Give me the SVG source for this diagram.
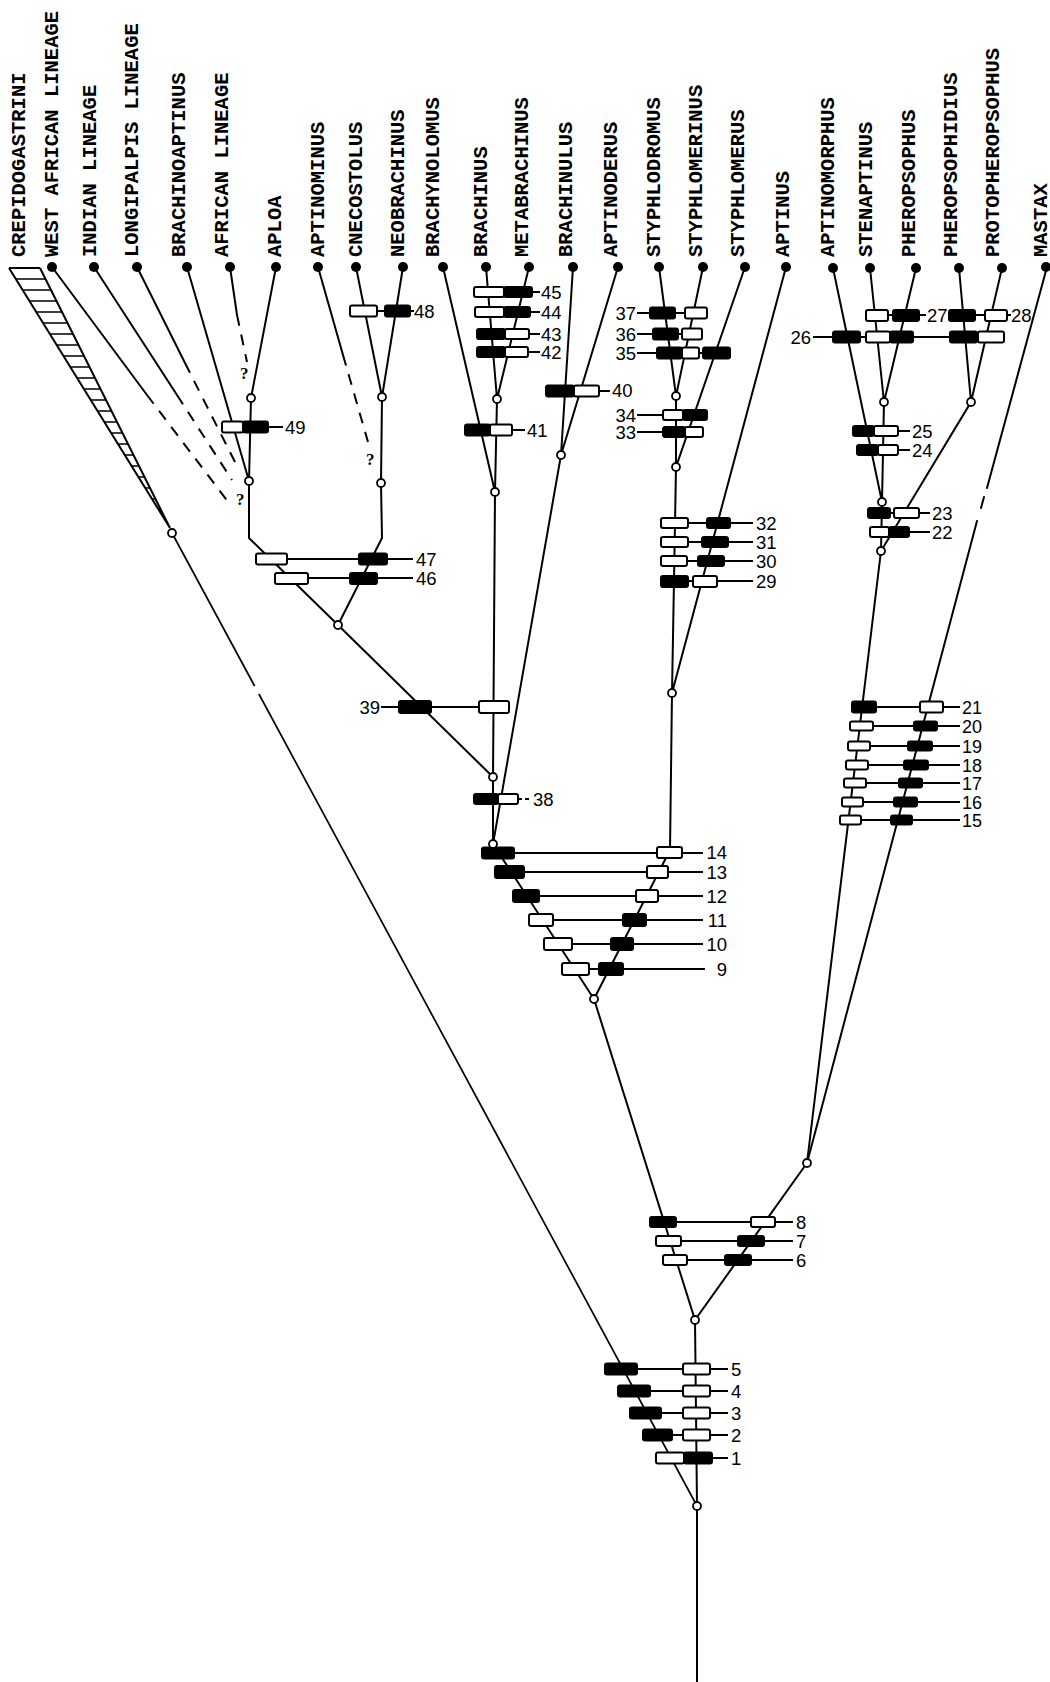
<svg xmlns="http://www.w3.org/2000/svg" width="1050" height="1682" viewBox="0 0 1050 1682">
<style>
.br{stroke:#000;stroke-width:2;fill:none;stroke-linecap:round}
.th{stroke:#000;stroke-width:1.7;fill:none}
.rg{stroke:#000;stroke-width:2;fill:none}
.ds{stroke:#000;stroke-width:2;fill:none;stroke-dasharray:11 9}
.ld{stroke:#000;stroke-width:2;fill:none}
.w{fill:#fff;stroke:#000;stroke-width:2}
.b{fill:#000;stroke:#000;stroke-width:2}
.nd{fill:#fff;stroke:#000;stroke-width:1.8}
.dot{fill:#000}
.tx{font-family:"Liberation Mono","DejaVu Sans Mono",monospace;font-weight:bold;font-size:20.5px;fill:#000}
.n{font-family:"Liberation Sans","DejaVu Sans",sans-serif;font-size:18.5px;fill:#000}
.ns{font-family:"Liberation Sans","DejaVu Sans",sans-serif;font-size:18px;fill:#000}
.q{font-family:"Liberation Serif","DejaVu Serif",serif;font-weight:bold;font-size:17px;fill:#000}
</style>
<rect width="1050" height="1682" fill="#fff"/>

<g id="connectors">
  <path class="rg" d="M9,268 L170,528 M40,268 L170,528 M9,268 L40,268"/>
  <path class="th" d="M15.8,279H45.5 M22.6,290H51 M29.4,301H56.5 M36.2,312H62 M43,323H67.5 M49.9,334H73 M56.7,345H78.5 M63.5,356H84 M70.3,367H89.5 M77.1,378H95 M83.9,389H100.5 M90.7,400H106 M97.5,411H111.5 M104.3,422H117 M111.1,433H122.5 M117.9,444H128 M124.8,455H133.5 M131.6,466H139 M138.4,477H144.5 M145.2,488H150 M152,499H155.5"/>
  <path class="th" d="M172,533 L254.6,686 M258.9,694 L697,1506"/>
  <path class="br" d="M52,267 L147,395"/><path class="ds" d="M147,395 L229,503"/>
  <path class="br" d="M94,267 L177,395"/><path class="ds" d="M177,395 L232,480"/>
  <path class="br" d="M137,267 L185,363"/><path class="ds" d="M185,363 L235,462"/>
  <path class="br" d="M187,267 L249,481"/>
  <path class="br" d="M230,267 L237,315"/><path class="ds" d="M237,315 L247,362"/>
  <path class="br" d="M276,267 L251,398 L249,481 L249,538 L338,625"/>
  <path class="br" d="M318,267 L343,355"/><path class="ds" d="M343,355 L368,442"/>
  <path class="br" d="M356,267 L382,397 M403,267 L382,397 L381,483 L382,538 L338,625"/>
  <path class="br" d="M338,625 L493,777"/>
  <path class="br" d="M443,267 L495,492 M486,267 L497,399 M529,267 L497,399 L495,492 L493,777 L493,844"/>
  <path class="br" d="M573,267 L561,455 M618,267 L561,455 L493,844 L594,999"/>
  <path class="br" d="M659,267 L676,396 M703,267 L676,396 L676,467 M745,267 L676,467 L672,693 M786,267 L672,693 L670,850 L594,999"/>
  <path class="br" d="M594,999 L695,1320 L697,1506 L697,1682"/>
  <path class="br" d="M833,268 L882,502 M870,268 L884,402 M916,268 L884,402 L882,502 L881,551 M959,268 L971,402 M1002,268 L971,402 L881,551 L807,1163 L695,1320"/>
  <path class="br" d="M1047,267 L987,488 M984,497 L981,508 M977,521 L807,1163"/>
</g>

<g id="taxa">
  <g id="t-crepidogastrini"><text class="tx" transform="translate(25,257) rotate(-90)">CREPIDOGASTRINI</text></g>
  <g id="t-west-african"><text class="tx" transform="translate(58,257) rotate(-90)">WEST AFRICAN LINEAGE</text><circle class="dot" cx="52" cy="267" r="5"/></g>
  <g id="t-indian"><text class="tx" transform="translate(96,257) rotate(-90)">INDIAN LINEAGE</text><circle class="dot" cx="94" cy="267" r="5"/></g>
  <g id="t-longipalpis"><text class="tx" transform="translate(138,257) rotate(-90)">LONGIPALPIS LINEAGE</text><circle class="dot" cx="137" cy="267" r="5"/></g>
  <g id="t-brachinoaptinus"><text class="tx" transform="translate(185,257) rotate(-90)">BRACHINOAPTINUS</text><circle class="dot" cx="187" cy="267" r="5"/></g>
  <g id="t-african"><text class="tx" transform="translate(228,257) rotate(-90)">AFRICAN LINEAGE</text><circle class="dot" cx="230" cy="267" r="5"/></g>
  <g id="t-aploa"><text class="tx" transform="translate(281,257) rotate(-90)">APLOA</text><circle class="dot" cx="276" cy="267" r="5"/></g>
  <g id="t-aptinominus"><text class="tx" transform="translate(324,257) rotate(-90)">APTINOMINUS</text><circle class="dot" cx="318" cy="267" r="5"/></g>
  <g id="t-cnecostolus"><text class="tx" transform="translate(362,257) rotate(-90)">CNECOSTOLUS</text><circle class="dot" cx="356" cy="267" r="5"/></g>
  <g id="t-neobrachinus"><text class="tx" transform="translate(404,257) rotate(-90)">NEOBRACHINUS</text><circle class="dot" cx="403" cy="267" r="5"/></g>
  <g id="t-brachynolomus"><text class="tx" transform="translate(439,257) rotate(-90)">BRACHYNOLOMUS</text><circle class="dot" cx="443" cy="267" r="5"/></g>
  <g id="t-brachinus"><text class="tx" transform="translate(487,257) rotate(-90)">BRACHINUS</text><circle class="dot" cx="486" cy="267" r="5"/></g>
  <g id="t-metabrachinus"><text class="tx" transform="translate(528,257) rotate(-90)">METABRACHINUS</text><circle class="dot" cx="529" cy="267" r="5"/></g>
  <g id="t-brachinulus"><text class="tx" transform="translate(572,257) rotate(-90)">BRACHINULUS</text><circle class="dot" cx="573" cy="267" r="5"/></g>
  <g id="t-aptinoderus"><text class="tx" transform="translate(617,257) rotate(-90)">APTINODERUS</text><circle class="dot" cx="618" cy="267" r="5"/></g>
  <g id="t-styphlodromus"><text class="tx" transform="translate(660,257) rotate(-90)">STYPHLODROMUS</text><circle class="dot" cx="659" cy="267" r="5"/></g>
  <g id="t-styphlomerinus"><text class="tx" transform="translate(702,257) rotate(-90)">STYPHLOMERINUS</text><circle class="dot" cx="703" cy="267" r="5"/></g>
  <g id="t-styphlomerus"><text class="tx" transform="translate(744,257) rotate(-90)">STYPHLOMERUS</text><circle class="dot" cx="745" cy="267" r="5"/></g>
  <g id="t-aptinus"><text class="tx" transform="translate(789,257) rotate(-90)">APTINUS</text><circle class="dot" cx="786" cy="267" r="5"/></g>
  <g id="t-aptinomorphus"><text class="tx" transform="translate(834,257) rotate(-90)">APTINOMORPHUS</text><circle class="dot" cx="833" cy="268" r="5"/></g>
  <g id="t-stenaptinus"><text class="tx" transform="translate(872,257) rotate(-90)">STENAPTINUS</text><circle class="dot" cx="870" cy="268" r="5"/></g>
  <g id="t-pheropsophus"><text class="tx" transform="translate(915,257) rotate(-90)">PHEROPSOPHUS</text><circle class="dot" cx="916" cy="268" r="5"/></g>
  <g id="t-pheropsophidius"><text class="tx" transform="translate(957,257) rotate(-90)">PHEROPSOPHIDIUS</text><circle class="dot" cx="959" cy="268" r="5"/></g>
  <g id="t-protopheropsophus"><text class="tx" transform="translate(999,257) rotate(-90)">PROTOPHEROPSOPHUS</text><circle class="dot" cx="1002" cy="268" r="5"/></g>
  <g id="t-mastax"><text class="tx" transform="translate(1047,257) rotate(-90)">MASTAX</text><circle class="dot" cx="1046" cy="267" r="5"/></g>
</g>

<g id="characters">
  <g id="c1"><path class="ld" d="M712,1458H728"/><rect class="w" x="656" y="1452.5" width="28" height="11" rx="2"/><rect class="b" x="684" y="1452.5" width="28" height="11" rx="2"/><text class="n" x="731" y="1465">1</text></g>
  <g id="c2"><path class="ld" d="M672,1435H683 M710,1435H728"/><rect class="b" x="643" y="1429.5" width="29" height="11" rx="2"/><rect class="w" x="683" y="1429.5" width="27" height="11" rx="2"/><text class="n" x="731" y="1442">2</text></g>
  <g id="c3"><path class="ld" d="M661,1413H683 M710,1413H728"/><rect class="b" x="630" y="1407.5" width="31" height="11" rx="2"/><rect class="w" x="683" y="1407.5" width="27" height="11" rx="2"/><text class="n" x="731" y="1420">3</text></g>
  <g id="c4"><path class="ld" d="M650,1391H683 M710,1391H728"/><rect class="b" x="618" y="1385.5" width="32" height="11" rx="2"/><rect class="w" x="683" y="1385.5" width="27" height="11" rx="2"/><text class="n" x="731" y="1398">4</text></g>
  <g id="c5"><path class="ld" d="M637,1369H683 M710,1369H728"/><rect class="b" x="605" y="1363.5" width="32" height="11" rx="2"/><rect class="w" x="683" y="1363.5" width="27" height="11" rx="2"/><text class="n" x="731" y="1376">5</text></g>
  <g id="c6"><path class="ld" d="M687,1260H725 M751,1260H793"/><rect class="w" x="663" y="1255" width="24" height="10" rx="2"/><rect class="b" x="725" y="1255" width="26" height="10" rx="2"/><text class="n" x="796" y="1267">6</text></g>
  <g id="c7"><path class="ld" d="M681,1241H738 M764,1241H793"/><rect class="w" x="656" y="1236" width="25" height="10" rx="2"/><rect class="b" x="738" y="1236" width="26" height="10" rx="2"/><text class="n" x="796" y="1248">7</text></g>
  <g id="c8"><path class="ld" d="M676,1222H751 M775,1222H793"/><rect class="b" x="650" y="1217" width="26" height="10" rx="2"/><rect class="w" x="751" y="1217" width="24" height="10" rx="2"/><text class="n" x="796" y="1229">8</text></g>
  <g id="c9"><path class="ld" d="M589,969H599 M623,969H705"/><rect class="w" x="562" y="963" width="27" height="12" rx="2"/><rect class="b" x="599" y="963" width="24" height="12" rx="2"/><text class="n" x="727" y="976" text-anchor="end">9</text></g>
  <g id="c10"><path class="ld" d="M572,944H611 M633,944H703"/><rect class="w" x="544" y="938" width="28" height="12" rx="2"/><rect class="b" x="611" y="938" width="22" height="12" rx="2"/><text class="n" x="727" y="951" text-anchor="end">10</text></g>
  <g id="c11"><path class="ld" d="M553,920H623 M646,920H703"/><rect class="w" x="529" y="914" width="24" height="12" rx="2"/><rect class="b" x="623" y="914" width="23" height="12" rx="2"/><text class="n" x="727" y="927" text-anchor="end">11</text></g>
  <g id="c12"><path class="ld" d="M539,896H636 M658,896H703"/><rect class="b" x="513" y="890" width="26" height="12" rx="2"/><rect class="w" x="636" y="890" width="22" height="12" rx="2"/><text class="n" x="727" y="903" text-anchor="end">12</text></g>
  <g id="c13"><path class="ld" d="M524,872H647 M668,872H703"/><rect class="b" x="495" y="866" width="29" height="12" rx="2"/><rect class="w" x="647" y="866" width="21" height="12" rx="2"/><text class="n" x="727" y="879" text-anchor="end">13</text></g>
  <g id="c14"><path class="ld" d="M514,853H657 M682,853H703"/><rect class="b" x="482" y="847.5" width="32" height="11" rx="2"/><rect class="w" x="657" y="847" width="25" height="11" rx="2"/><text class="n" x="727" y="859" text-anchor="end">14</text></g>
  <g id="c15"><path class="ld" d="M861,820H891 M912,820H960"/><rect class="w" x="840" y="815.5" width="21" height="9" rx="2"/><rect class="b" x="891" y="815.5" width="21" height="9" rx="2"/><text class="ns" x="962" y="827">15</text></g>
  <g id="c16"><path class="ld" d="M863,802H894 M917,802H960"/><rect class="w" x="842" y="797.5" width="21" height="9" rx="2"/><rect class="b" x="894" y="797.5" width="23" height="9" rx="2"/><text class="ns" x="962" y="809">16</text></g>
  <g id="c17"><path class="ld" d="M866,783H899 M922,783H960"/><rect class="w" x="844" y="778.5" width="22" height="9" rx="2"/><rect class="b" x="899" y="778.5" width="23" height="9" rx="2"/><text class="ns" x="962" y="790">17</text></g>
  <g id="c18"><path class="ld" d="M868,765H904 M928,765H960"/><rect class="w" x="846" y="760.5" width="22" height="9" rx="2"/><rect class="b" x="904" y="760.5" width="24" height="9" rx="2"/><text class="ns" x="962" y="772">18</text></g>
  <g id="c19"><path class="ld" d="M870,746H908 M932,746H960"/><rect class="w" x="848" y="741.5" width="22" height="9" rx="2"/><rect class="b" x="908" y="741.5" width="24" height="9" rx="2"/><text class="ns" x="962" y="753">19</text></g>
  <g id="c20"><path class="ld" d="M873,726H914 M937,726H960"/><rect class="w" x="850" y="721.5" width="23" height="9" rx="2"/><rect class="b" x="914" y="721.5" width="23" height="9" rx="2"/><text class="ns" x="962" y="733">20</text></g>
  <g id="c21"><path class="ld" d="M876,707H920 M943,707H960"/><rect class="b" x="852" y="701.5" width="24" height="11" rx="2"/><rect class="w" x="920" y="701.5" width="23" height="11" rx="2"/><text class="ns" x="962" y="714">21</text></g>
  <g id="c22"><path class="ld" d="M909,532H930"/><rect class="w" x="870" y="527" width="19" height="10" rx="2"/><rect class="b" x="889" y="527" width="20" height="10" rx="2"/><text class="n" x="932" y="539">22</text></g>
  <g id="c23"><path class="ld" d="M890,513H894 M919,513H930"/><rect class="b" x="868" y="508" width="22" height="10" rx="2"/><rect class="w" x="894" y="508" width="25" height="10" rx="2"/><text class="n" x="932" y="520">23</text></g>
  <g id="c24"><path class="ld" d="M898,450H910"/><rect class="b" x="857" y="445" width="21" height="10" rx="2"/><rect class="w" x="878" y="445" width="20" height="10" rx="2"/><text class="n" x="912" y="457">24</text></g>
  <g id="c25"><path class="ld" d="M898,431H910"/><rect class="b" x="853" y="426" width="21" height="10" rx="2"/><rect class="w" x="874" y="426" width="24" height="10" rx="2"/><text class="n" x="912" y="438">25</text></g>
  <g id="c26"><path class="ld" d="M813,337H833 M860,337H866 M913,337H950"/><rect class="b" x="833" y="331.5" width="27" height="11" rx="2"/><rect class="w" x="866" y="331.5" width="24" height="11" rx="2"/><rect class="b" x="890" y="331.5" width="23" height="11" rx="2"/><rect class="b" x="950" y="331.5" width="27" height="11" rx="2"/><rect class="w" x="978" y="331.5" width="26" height="11" rx="2"/><text class="n" x="811" y="344" text-anchor="end">26</text></g>
  <g id="c27"><path class="ld" d="M888,315H893 M919,315H926"/><rect class="w" x="866" y="310" width="22" height="11" rx="2"/><rect class="b" x="893" y="310" width="26" height="11" rx="2"/><text class="n" x="927" y="322">27</text></g>
  <g id="c28"><path class="ld" d="M975,315H985 M1007,315H1011"/><rect class="b" x="949" y="310" width="26" height="11" rx="2"/><rect class="w" x="985" y="310" width="22" height="11" rx="2"/><text class="n" x="1011" y="322">28</text></g>
  <g id="c29"><path class="ld" d="M688,581H693 M717,581H753"/><rect class="b" x="661" y="576" width="27" height="11" rx="2"/><rect class="w" x="693" y="576" width="24" height="11" rx="2"/><text class="n" x="756" y="588">29</text></g>
  <g id="c30"><path class="ld" d="M687,561H698 M724,561H753"/><rect class="w" x="661" y="556" width="26" height="10" rx="2"/><rect class="b" x="698" y="556" width="26" height="10" rx="2"/><text class="n" x="756" y="568">30</text></g>
  <g id="c31"><path class="ld" d="M688,542H702 M728,542H753"/><rect class="w" x="661" y="537" width="27" height="10" rx="2"/><rect class="b" x="702" y="537" width="26" height="10" rx="2"/><text class="n" x="756" y="549">31</text></g>
  <g id="c32"><path class="ld" d="M688,523H707 M730,523H753"/><rect class="w" x="661" y="518" width="27" height="10" rx="2"/><rect class="b" x="707" y="518" width="23" height="10" rx="2"/><text class="n" x="756" y="530">32</text></g>
  <g id="c33"><path class="ld" d="M637,432H663"/><rect class="b" x="663" y="427" width="22" height="10" rx="2"/><rect class="w" x="685" y="427" width="18" height="10" rx="2"/><text class="n" x="636" y="439" text-anchor="end">33</text></g>
  <g id="c34"><path class="ld" d="M637,415H663"/><rect class="w" x="663" y="410" width="20" height="10" rx="2"/><rect class="b" x="683" y="410" width="24" height="10" rx="2"/><text class="n" x="636" y="422" text-anchor="end">34</text></g>
  <g id="c35"><path class="ld" d="M637,353H657 M699,353H703"/><rect class="b" x="657" y="347.5" width="25" height="11" rx="2"/><rect class="w" x="682" y="347.5" width="17" height="11" rx="2"/><rect class="b" x="703" y="347.5" width="27" height="11" rx="2"/><text class="n" x="636" y="360" text-anchor="end">35</text></g>
  <g id="c36"><path class="ld" d="M637,334H653 M678,334H682"/><rect class="b" x="653" y="328.5" width="25" height="11" rx="2"/><rect class="w" x="682" y="328.5" width="20" height="11" rx="2"/><text class="n" x="636" y="341" text-anchor="end">36</text></g>
  <g id="c37"><path class="ld" d="M637,313H650 M675,313H685"/><rect class="b" x="650" y="307.5" width="25" height="11" rx="2"/><rect class="w" x="685" y="307.5" width="22" height="11" rx="2"/><text class="n" x="636" y="320" text-anchor="end">37</text></g>
  <g id="c38"><path class="ld" d="M518,799H531" stroke-dasharray="4 3"/><rect class="b" x="474" y="794" width="24" height="10" rx="2"/><rect class="w" x="498" y="794" width="20" height="10" rx="2"/><text class="n" x="533" y="806">38</text></g>
  <g id="c39"><path class="ld" d="M381,707H399 M431,707H479"/><rect class="b" x="399" y="701" width="32" height="12" rx="2"/><rect class="w" x="479" y="701" width="30" height="12" rx="2"/><text class="n" x="380" y="714" text-anchor="end">39</text></g>
  <g id="c40"><path class="ld" d="M599,391H610"/><rect class="b" x="546" y="385.5" width="28" height="11" rx="2"/><rect class="w" x="574" y="385.5" width="25" height="11" rx="2"/><text class="n" x="612" y="397">40</text></g>
  <g id="c41"><path class="ld" d="M512,430H525"/><rect class="b" x="465" y="424.5" width="25" height="11" rx="2"/><rect class="w" x="490" y="424.5" width="22" height="11" rx="2"/><text class="n" x="527" y="437">41</text></g>
  <g id="c42"><path class="ld" d="M528,352H540"/><rect class="b" x="477" y="347" width="28" height="10" rx="2"/><rect class="w" x="505" y="347" width="23" height="10" rx="2"/><text class="n" x="541" y="359">42</text></g>
  <g id="c43"><path class="ld" d="M529,334H540"/><rect class="b" x="477" y="329" width="28" height="10" rx="2"/><rect class="w" x="505" y="329" width="24" height="10" rx="2"/><text class="n" x="541" y="341">43</text></g>
  <g id="c44"><path class="ld" d="M530,312H540"/><rect class="w" x="475" y="307" width="29" height="10" rx="2"/><rect class="b" x="504" y="307" width="26" height="10" rx="2"/><text class="n" x="541" y="319">44</text></g>
  <g id="c45"><path class="ld" d="M532,292H540"/><rect class="w" x="474" y="287" width="30" height="10" rx="2"/><rect class="b" x="504" y="287" width="28" height="10" rx="2"/><text class="n" x="541" y="299">45</text></g>
  <g id="c46"><path class="ld" d="M308,578H350 M377,578H413"/><rect class="w" x="275" y="573" width="33" height="11" rx="2"/><rect class="b" x="350" y="573" width="27" height="11" rx="2"/><text class="n" x="416" y="585">46</text></g>
  <g id="c47"><path class="ld" d="M287,559H359 M387,559H413"/><rect class="w" x="256" y="553.5" width="31" height="11" rx="2"/><rect class="b" x="359" y="553.5" width="28" height="11" rx="2"/><text class="n" x="416" y="566">47</text></g>
  <g id="c48"><path class="ld" d="M377,311H385 M410,311H414"/><rect class="w" x="350" y="305.5" width="27" height="11" rx="2"/><rect class="b" x="385" y="305.5" width="25" height="11" rx="2"/><text class="n" x="414" y="318">48</text></g>
  <g id="c49"><path class="ld" d="M268,427H283"/><rect class="w" x="222" y="421.5" width="21" height="11" rx="2"/><rect class="b" x="243" y="421.5" width="25" height="11" rx="2"/><text class="n" x="285" y="434">49</text></g>
</g>

<g id="nodes">
  <circle class="nd" cx="172" cy="533" r="4"/>
  <circle class="nd" cx="251" cy="398" r="4"/>
  <circle class="nd" cx="249" cy="481" r="4"/>
  <circle class="nd" cx="382" cy="397" r="4"/>
  <circle class="nd" cx="381" cy="483" r="4"/>
  <circle class="nd" cx="338" cy="625" r="4"/>
  <circle class="nd" cx="497" cy="399" r="4"/>
  <circle class="nd" cx="495" cy="492" r="4"/>
  <circle class="nd" cx="561" cy="455" r="4"/>
  <circle class="nd" cx="493" cy="777" r="4"/>
  <circle class="nd" cx="493" cy="844" r="4"/>
  <circle class="nd" cx="676" cy="396" r="4"/>
  <circle class="nd" cx="676" cy="467" r="4"/>
  <circle class="nd" cx="672" cy="693" r="4"/>
  <circle class="nd" cx="594" cy="999" r="4"/>
  <circle class="nd" cx="695" cy="1320" r="4"/>
  <circle class="nd" cx="697" cy="1506" r="4"/>
  <circle class="nd" cx="884" cy="402" r="4"/>
  <circle class="nd" cx="971" cy="402" r="4"/>
  <circle class="nd" cx="882" cy="502" r="4"/>
  <circle class="nd" cx="881" cy="551" r="4"/>
  <circle class="nd" cx="807" cy="1163" r="4"/>
  <text class="q" x="240" y="379">?</text>
  <text class="q" x="236" y="505">?</text>
  <text class="q" x="366" y="465">?</text>
</g>
</svg>
